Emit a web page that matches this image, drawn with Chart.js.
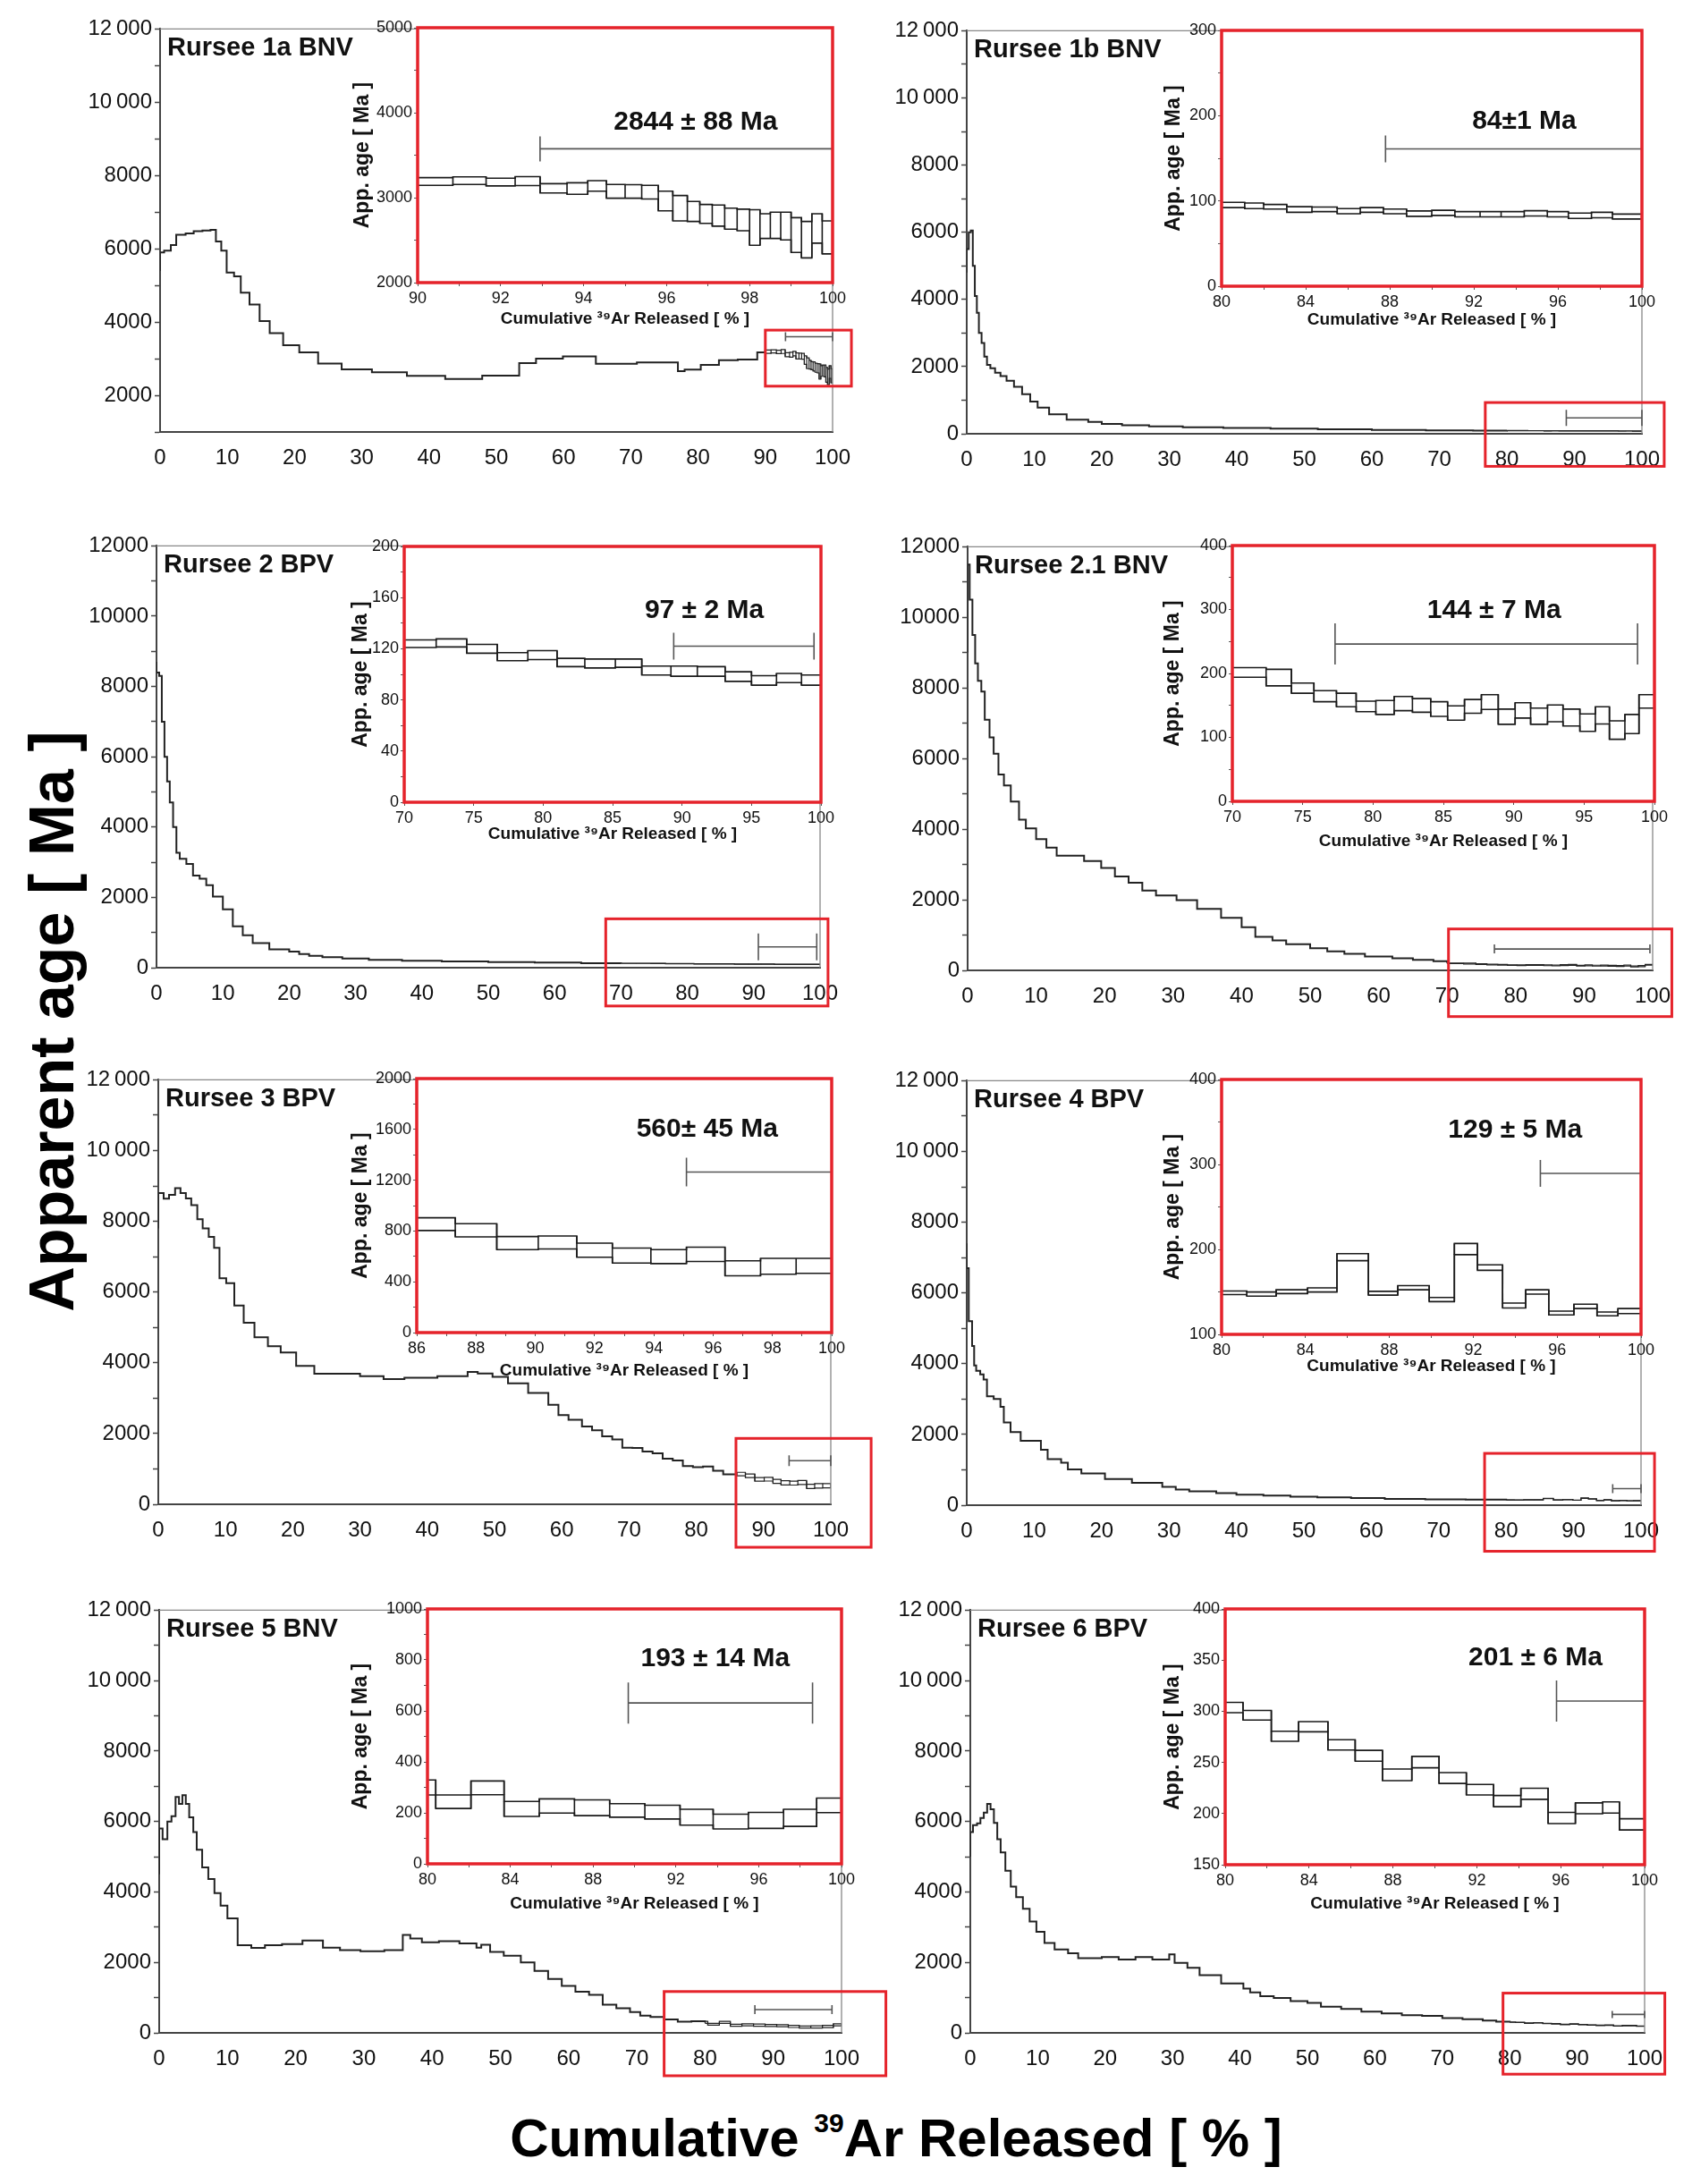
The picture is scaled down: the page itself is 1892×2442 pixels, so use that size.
<!DOCTYPE html>
<html>
<head>
<meta charset="utf-8">
<script src="https://cdn.jsdelivr.net/npm/chart.js@4.4.1/dist/chart.umd.min.js"></script>
<style>
  body { margin: 0; background: #fff; width: 1892px; height: 2442px; position: relative; overflow: hidden;
         font-family: "Liberation Sans", Arial, sans-serif; }
  .box { position: absolute; }
  .ytitle { position: absolute; left: 58px; top: 1142px; transform: translate(-50%, -50%) rotate(-90deg);
            font-weight: bold; font-size: 70px; white-space: nowrap; color: #000; }
  .xtitle { position: absolute; left: 1002px; top: 2390px; transform: translate(-50%, -50%);
            font-weight: bold; font-size: 60px; white-space: nowrap; color: #000; }
  .xtitle sup { font-size: 0.5em; vertical-align: 0.9em; }
</style>
</head>
<body>
<div class="ytitle">Apparent age [ Ma ]</div>
<div class="xtitle">Cumulative <sup>39</sup>Ar Released [ % ]</div>
<script>
'use strict';

const sampleNames = ['Rursee 1a BNV', 'Rursee 1b BNV', 'Rursee 2 BPV', 'Rursee 2.1 BNV',
                     'Rursee 3 BPV', 'Rursee 4 BPV', 'Rursee 5 BNV', 'Rursee 6 BPV'];
const plateauTexts = ['2844 ± 88 Ma', '84±1 Ma', '97 ± 2 Ma', '144 ± 7 Ma',
                      '560± 45 Ma', '129 ± 5 Ma', '193 ± 14 Ma', '201 ± 6 Ma'];

// full spectra: left edge of each step (cumulative %) and apparent age (Ma)
const mainX1 = [0, 0, 0.6, 1.6, 2.4, 3.8, 5.0, 6.3, 7.5, 8.3, 9.1, 9.9, 11, 12, 13.3, 14.8, 16.3, 18.3, 20.7, 23.5,
                27, 31.5, 36.7, 42.4, 47.9, 53.4, 55.9, 59.9, 64.8, 70.9, 77, 78, 80.4, 83.1, 85.9, 88.8];
const mainAge1 = [5400, 5900, 5950, 6100, 6380, 6420, 6480, 6500, 6520, 6200, 5950, 5350, 5250, 4800, 4480, 4030, 3700, 3370, 3170, 2870,
                  2710, 2630, 2530, 2445, 2540, 2880, 3000, 3060, 2860, 2900, 2660, 2700, 2830, 2960, 2980, 3170];
const mainX2 = [0, 0, 0.3, 0.6, 0.9, 1.2, 1.5, 1.8, 2.2, 2.6, 3, 3.5, 4.2, 5, 5.9, 7, 8.2, 9.4, 10.5, 12.2,
                14.8, 18, 20, 23, 27, 32, 38, 45, 52, 60, 68, 75];
const mainAge2 = [4800, 5500, 6000, 6050, 5000, 4100, 3600, 3000, 2700, 2300, 2050, 1950, 1820, 1720, 1580, 1400, 1180, 960, 780, 580,
                  420, 350, 290, 250, 220, 190, 170, 150, 130, 110, 100, 95];
const mainX3 = [0, 0, 0.4, 0.8, 1.2, 1.6, 2, 2.5, 3, 3.5, 4.5, 5.5, 6.5, 7.5, 8.5, 10, 11.5, 13, 14.5, 17,
                20, 21.5, 23, 25, 28, 32, 37, 43, 50, 57, 64];
const mainAge3 = [8700, 8400, 8300, 7000, 6000, 5300, 4700, 4000, 3270, 3100, 2950, 2620, 2530, 2350, 2020, 1660, 1180, 920, 700, 520,
                  460, 390, 340, 300, 260, 225, 200, 180, 160, 145, 130];
const mainX4 = [0, 0, 0.3, 0.7, 1.1, 1.5, 2, 2.5, 3.2, 3.8, 4.5, 5.3, 6.3, 7.5, 8.5, 10, 11.5, 13, 17, 19.5,
                21.5, 23.5, 25.5, 27.5, 30.5, 33.5, 37, 40, 42, 44.5, 46.5, 50, 52.5, 55, 58, 62, 65, 68];
const mainAge4 = [9000, 11500, 10500, 9500, 8700, 8200, 7900, 7100, 6600, 6140, 5550, 5240, 4780, 4270, 4020, 3720, 3480, 3250, 3100, 2900,
                  2660, 2480, 2260, 2120, 1990, 1740, 1490, 1220, 950, 850, 740, 630, 540, 470, 390, 340, 300, 260];
const mainX5 = [0, 0, 0.8, 1.6, 2.5, 3.3, 4.1, 4.9, 5.8, 6.6, 7.5, 8.3, 9.1, 10.1, 11.3, 12.7, 14.3, 16.3, 18.2, 20.5,
                23.2, 30, 33.5, 36.6, 41.5, 46, 47.5, 49.7, 52, 55, 58, 59.5, 61, 63, 64.5, 66, 67.5, 69, 70.5, 72,
                73.5, 75, 76.5, 78, 79.5, 81, 82.5, 84];
const mainAge5 = [7800, 8800, 8640, 8750, 8940, 8800, 8650, 8460, 8060, 7800, 7560, 7250, 6390, 6250, 5620, 5130, 4720, 4470, 4290, 3910,
                  3690, 3620, 3540, 3580, 3620, 3740, 3700, 3600, 3420, 3150, 2810, 2520, 2390, 2200, 2090, 1920, 1830, 1600, 1590, 1490,
                  1440, 1290, 1240, 1080, 1050, 1070, 950, 850];
const mainX6 = [0, 0, 0.3, 0.8, 1.1, 1.4, 2, 2.5, 3, 4, 5, 5.5, 6.5, 8, 11, 12, 14, 15, 17, 20.5,
                24.5, 29, 31, 33, 37, 40, 44, 48, 52, 57, 62, 68, 74];
const mainAge6 = [7400, 6700, 5200, 4500, 3950, 3800, 3700, 3550, 3080, 3000, 2780, 2340, 2070, 1820, 1570, 1300, 1200, 1010, 900, 740,
                  630, 520, 440, 390, 340, 300, 270, 240, 220, 200, 180, 165, 155];
const mainX7 = [0, 0, 0.5, 1.2, 1.8, 2.4, 2.9, 3.4, 3.9, 4.4, 5, 5.5, 6.3, 7.2, 8.1, 9, 10, 11.5, 13.5, 15.5,
                18, 21, 24, 26.5, 29.5, 33, 35.7, 36.8, 38.5, 41, 44, 46.5, 47.2, 48.5, 50.5, 53, 55, 57, 59, 61,
                63, 65, 67, 69, 70.5, 72, 74, 76, 78];
const mainAge7 = [4500, 5800, 5500, 6000, 6150, 6700, 6500, 6750, 6500, 6120, 5700, 5200, 4700, 4370, 3970, 3610, 3250, 2490, 2410, 2490,
                  2520, 2620, 2420, 2350, 2320, 2350, 2780, 2680, 2570, 2600, 2540, 2420, 2500, 2300, 2190, 2000, 1760, 1530, 1330, 1170,
                  1080, 800, 700, 590, 490, 450, 380, 320, 330];
const mainX8 = [0, 0, 0.4, 1, 1.5, 2, 2.5, 3, 3.5, 4, 4.5, 5.2, 6, 6.8, 7.8, 8.8, 9.8, 11, 12.5, 14.5,
                16, 19.5, 22, 24.5, 27, 29.5, 30.3, 32.2, 34, 37.2, 40.5, 41.5, 43, 45, 47.5, 50, 52, 55, 58, 61,
                64, 67, 70, 73, 76, 78];
const mainAge8 = [5000, 5700, 5900, 5950, 6100, 6250, 6500, 6350, 5960, 5500, 5120, 4600, 4150, 3850, 3520, 3160, 2870, 2550, 2370, 2260,
                  2120, 2150, 2080, 2150, 2080, 2230, 1990, 1850, 1640, 1400, 1260, 1150, 1040, 990, 900, 850, 740, 680, 600, 550,
                  500, 480, 420, 390, 350, 320];

// high-temperature steps shown in the insets: step edges (%), lower and upper age of each box (Ma)
const insetX1 = [90, 90.85, 91.65, 92.35, 92.95, 93.6, 94.1, 94.55, 95, 95.4, 95.8, 96.15, 96.5, 96.8, 97.1, 97.4, 97.7, 98, 98.25, 98.5, 98.75, 99, 99.25, 99.5, 99.75, 100];
const insetLo1 = [3145, 3156, 3138, 3142, 3055, 3040, 3076, 2993, 2993, 2985, 2844, 2727, 2720, 2698, 2665, 2629, 2611, 2440, 2520, 2520, 2502, 2356, 2291, 2465, 2338];
const insetHi1 = [3236, 3244, 3229, 3247, 3164, 3175, 3200, 3156, 3153, 3145, 3076, 3025, 2956, 2920, 2913, 2876, 2865, 2858, 2811, 2829, 2829, 2764, 2720, 2811, 2727];
const insetX2 = [80, 81.1, 82, 83.1, 84.3, 85.5, 86.6, 87.7, 88.8, 90, 91.1, 92.3, 93.3, 94.4, 95.5, 96.5, 97.6, 98.6, 100];
const insetLo2 = [92.2, 91, 90.4, 86.7, 87.5, 85, 86.7, 85, 82, 83, 81.3, 81.3, 81.3, 82.4, 81.3, 79.5, 80.2, 78.8];
const insetHi2 = [98.3, 97.6, 95.8, 93.2, 92.9, 91, 92.2, 90.4, 88.2, 89, 87.5, 87.5, 87.5, 88.5, 87.5, 85.7, 86.7, 84.6];
const insetX3 = [70, 72.3, 74.5, 76.7, 78.9, 81, 83, 85.2, 87.1, 89.2, 91.1, 93.1, 95, 96.8, 98.6, 100];
const insetLo3 = [121, 121.4, 116.5, 110.7, 111.5, 106, 105, 105.5, 99.5, 98.5, 98.5, 94.5, 91.5, 93.5, 91.5];
const insetHi3 = [126.9, 127.7, 123.4, 117, 118.5, 112.5, 112, 112, 106.5, 106.5, 106, 102, 99, 100.7, 99.5];
const insetX4 = [70, 72.4, 74.2, 75.8, 77.4, 78.8, 80.2, 81.5, 82.8, 84.1, 85.3, 86.5, 87.7, 88.9, 90.1, 91.2, 92.4, 93.5, 94.7, 95.8, 96.8, 97.9, 98.9, 100];
const insetLo4 = [194, 180.6, 169, 155.7, 147.8, 140.3, 135.8, 141.8, 139.3, 132.8, 126.9, 137.8, 143.8, 120.4, 130.3, 120.4, 124.4, 117.9, 109.5, 120.9, 97, 106, 145.8];
const insetHi4 = [209, 206.5, 185, 173, 169, 156.7, 157.7, 164, 160.7, 155.7, 149.3, 159.2, 166.7, 144.3, 154.2, 145.8, 150.7, 144.3, 136.8, 147.8, 125.9, 135.8, 166.7];
const insetX5 = [86, 87.3, 88.7, 90.1, 91.4, 92.6, 93.9, 95.1, 96.4, 97.6, 98.8, 100];
const insetLo5 = [804, 754, 653, 658, 593, 548, 543, 560, 447, 460, 467];
const insetHi5 = [904, 857, 756, 761, 704, 666, 653, 673, 565, 585, 585];
const insetX6 = [80, 81.2, 82.6, 84.1, 85.5, 87, 88.4, 89.9, 91.1, 92.2, 93.4, 94.5, 95.6, 96.8, 97.9, 98.9, 100];
const insetLo6 = [146.9, 145, 148, 149.9, 186.7, 146.2, 152.5, 138.6, 193.8, 175.4, 131.1, 147.3, 122.9, 130.4, 121.8, 124.4];
const insetHi6 = [151, 149.9, 152.5, 154.8, 195, 150.7, 157.4, 143.5, 207, 181.8, 136.8, 152.5, 127.4, 135.6, 126.3, 130.4];
const insetX7 = [80, 80.4, 82.1, 83.7, 85.4, 87.1, 88.8, 90.5, 92.2, 93.8, 95.5, 97.2, 98.8, 100];
const insetLo7 = [270, 217, 271, 186, 199, 189, 183, 176, 152, 137, 139, 147, 201];
const insetHi7 = [329, 270, 325, 245, 255, 251, 236, 230, 214, 195, 202, 214, 258];
const insetX8 = [80, 80.85, 82.2, 83.5, 84.9, 86.2, 87.5, 88.9, 90.2, 91.5, 92.8, 94.1, 95.4, 96.7, 98, 98.8, 100];
const insetLo8 = [298.6, 291.4, 270.6, 279.9, 262.1, 251.2, 232.2, 244.7, 229.4, 218.2, 206.7, 213.9, 190.2, 199.8, 200.5, 184];
const insetHi8 = [308.6, 300.8, 280.5, 289.9, 272.1, 261.8, 243.5, 255.9, 240, 228.5, 217.6, 224.8, 201.1, 210.4, 211.4, 194.9];

// plateau bars [from %, to %, drawn at age], main panel and inset
const plateauMain = [[93, 100, 3600], [88.8, 100, 474], [90.7, 99.5, 590], [76.9, 99.6, 605],
                     [93.8, 100, 1233], [95.8, 100, 467], [87.3, 98.6, 659], [95.2, 100, 523]];
const plateauInset = [[92.95, 100, 3575], [87.8, 100, 161], [89.4, 99.5, 122], [77.3, 98.8, 246],
                      [95.1, 100, 1264], [95.2, 100, 289.5], [89.7, 98.6, 631], [95.8, 100, 310]];
// plateau age label centre [%, Ma] in the inset
const labelAt = [[96.7, 3884], [94.4, 193], [91.6, 150], [88.6, 298], [95.8, 1598], [94, 340], [93.9, 805], [94.8, 352]];
// highlighted region in the main panel [x0, x1, y0, y1]
const zoomRegion = [[90, 102.8, 2250, 3780], [76.8, 103.3, -970, 930], [67.7, 101.2, -1090, 1390], [70.2, 102.8, -1309, 1173],
                    [85.9, 106, -1215, 1863], [76.8, 102, -1303, 1465], [74, 106.5, -1218, 1173], [79, 103, -1173, 1128]];

// axes
const mainYMin = [1000, 0, 0, 0, 0, 0, 0, 0];
const mainYSpaced = [true, true, false, false, true, true, true, true];
const insetXAxis = [[90, 100, 1, 2], [80, 100, 2, 4], [70, 100, 5, 5], [70, 100, 5, 5],
                    [86, 100, 1, 2], [80, 100, 2, 4], [80, 100, 2, 4], [80, 100, 2, 4]];   // min, max, step, labelled step
const insetYAxis = [[2000, 5000, 500, 1000], [0, 300, 50, 100], [0, 200, 20, 40], [0, 400, 50, 100],
                    [0, 2000, 200, 400], [100, 400, 50, 100], [0, 1000, 100, 200], [150, 400, 50, 50]];

const mains = [[mainX1, mainAge1], [mainX2, mainAge2], [mainX3, mainAge3], [mainX4, mainAge4],
               [mainX5, mainAge5], [mainX6, mainAge6], [mainX7, mainAge7], [mainX8, mainAge8]];
const insets = [[insetX1, insetLo1, insetHi1], [insetX2, insetLo2, insetHi2], [insetX3, insetLo3, insetHi3], [insetX4, insetLo4, insetHi4],
                [insetX5, insetLo5, insetHi5], [insetX6, insetLo6, insetHi6], [insetX7, insetLo7, insetHi7], [insetX8, insetLo8, insetHi8]];

// page layout (px): plot boxes, inset title offsets, plateau end-cap half heights
const layout = [
  { main: [179, 31, 931, 483],    inset: [467, 31, 931, 316],    yOff: 61, xOff: 41, capM: 5,  capI: 14 },
  { main: [1081, 33, 1836, 485],  inset: [1366, 34, 1836, 320],  yOff: 53, xOff: 38, capM: 9,  capI: 15 },
  { main: [175, 609, 917, 1082],  inset: [452, 611, 918, 897],   yOff: 48, xOff: 36, capM: 15, capI: 15 },
  { main: [1082, 610, 1848, 1085], inset: [1378, 610, 1850, 896], yOff: 66, xOff: 45, capM: 5,  capI: 23 },
  { main: [177, 1206, 929, 1682], inset: [466, 1206, 930, 1490], yOff: 62, xOff: 43, capM: 6,  capI: 16 },
  { main: [1081, 1207, 1835, 1683], inset: [1366, 1207, 1835, 1492], yOff: 54, xOff: 36, capM: 5, capI: 15 },
  { main: [178, 1799, 941, 2273], inset: [478, 1799, 941, 2084], yOff: 74, xOff: 45, capM: 5,  capI: 23 },
  { main: [1085, 1799, 1839, 2273], inset: [1370, 1799, 1839, 2085], yOff: 58, xOff: 44, capM: 4, capI: 23 },
];

const RED = '#e5232b';
const FONT = '"Liberation Sans", Arial, sans-serif';
Chart.defaults.font.family = FONT;
Chart.defaults.color = '#111';

function stepPoints(xs, ages, endX, endY) {
  const pts = xs.map((x, i) => ({ x, y: ages[i] }));
  pts.push({ x: endX, y: endY });
  return pts;
}

// upper or lower error envelope as a step line
function envelope(xs, vals) {
  const pts = vals.map((v, i) => ({ x: xs[i], y: v }));
  pts.push({ x: xs[xs.length - 1], y: vals[vals.length - 1] });
  return pts;
}

// vertical sides of each step box
function boxSides(xs, lo, hi) {
  const pts = [];
  for (let i = 0; i < lo.length; i++) {
    pts.push({ x: xs[i], y: lo[i] }, { x: xs[i], y: hi[i] }, { x: xs[i], y: null },
             { x: xs[i + 1], y: lo[i] }, { x: xs[i + 1], y: hi[i] }, { x: xs[i + 1], y: null });
  }
  return pts;
}

function labelEvery(base, step) {
  return (v) => {
    const k = (v - base) / step;
    return Math.abs(k - Math.round(k)) < 1e-6 ? String(v) : '';
  };
}

function mainYLabel(spaced) {
  return (v) => {
    if (v % 2000 !== 0) return '';
    if (v >= 10000 && spaced) return String(v).replace(/^(\d+)(\d{3})$/, '$1\u2009$2');
    return String(v);
  };
}

function spectrumSets(ix, ilo, ihi, color, width) {
  const base = { borderColor: color, borderWidth: width, pointRadius: 0, spanGaps: false };
  return [
    { ...base, data: envelope(ix, ihi), stepped: true },
    { ...base, data: envelope(ix, ilo), stepped: true },
    { ...base, data: boxSides(ix, ilo, ihi) },
  ];
}

function makeDecor(o) {
  return {
    id: 'decor',
    beforeDatasetsDraw(chart) {
      if (!o.fill) return;
      const a = chart.chartArea, ctx = chart.ctx;
      ctx.save();
      ctx.fillStyle = '#fff';
      ctx.fillRect(a.left, a.top, a.width, a.height);
      ctx.restore();
    },
    afterDraw(chart) {
      const { ctx, chartArea: a } = chart;
      const sx = chart.scales.x, sy = chart.scales.y;
      ctx.save();
      if (o.frame) {
        ctx.strokeStyle = '#888';
        ctx.lineWidth = 1.3;
        ctx.beginPath();
        ctx.moveTo(a.left, a.top); ctx.lineTo(a.right, a.top); ctx.lineTo(a.right, a.bottom);
        ctx.stroke();
      }
      if (o.plateau) {
        const [x0, x1, y] = o.plateau;
        const px0 = sx.getPixelForValue(x0), px1 = sx.getPixelForValue(x1), py = sy.getPixelForValue(y);
        ctx.strokeStyle = '#555';
        ctx.lineWidth = 1.6;
        ctx.beginPath();
        ctx.moveTo(px0, py); ctx.lineTo(px1, py);
        ctx.moveTo(px0, py - o.cap); ctx.lineTo(px0, py + o.cap);
        ctx.moveTo(px1, py - o.cap); ctx.lineTo(px1, py + o.cap);
        ctx.stroke();
      }
      if (o.zoom) {
        const [x0, x1, y0, y1] = o.zoom;
        const l = sx.getPixelForValue(x0), r = sx.getPixelForValue(x1);
        const t = sy.getPixelForValue(y1), b = sy.getPixelForValue(y0);
        ctx.strokeStyle = RED;
        ctx.lineWidth = 3;
        ctx.strokeRect(l, t, r - l, b - t);
      }
      if (o.redFrame) {
        ctx.strokeStyle = RED;
        ctx.lineWidth = 3.5;
        ctx.strokeRect(a.left, a.top, a.width, a.height);
      }
      ctx.fillStyle = '#111';
      if (o.label) {
        ctx.font = 'bold 30px ' + FONT;
        ctx.textAlign = 'center';
        ctx.textBaseline = 'middle';
        ctx.fillText(o.label, sx.getPixelForValue(o.labelAt[0]), sy.getPixelForValue(o.labelAt[1]));
      }
      if (o.title) {
        ctx.font = 'bold 29px ' + FONT;
        ctx.textAlign = 'left';
        ctx.textBaseline = 'middle';
        ctx.fillText(o.title, a.left + 8, a.top + 22);
      }
      ctx.restore();
    }
  };
}

function mountCanvas(left, top, w, h) {
  const div = document.createElement('div');
  div.className = 'box';
  div.style.left = left + 'px';
  div.style.top = top + 'px';
  div.style.width = w + 'px';
  div.style.height = h + 'px';
  const c = document.createElement('canvas');
  c.width = w; c.height = h;
  c.style.width = w + 'px'; c.style.height = h + 'px';
  div.appendChild(c);
  document.body.appendChild(div);
  return c;
}

function drawMain(i) {
  const [l, t, r, b] = layout[i].main;
  const yW = 95, padT = 16, padR = 75, xH = 62;
  const canvas = mountCanvas(l - yW, t - padT, yW + (r - l) + padR, padT + (b - t) + xH);
  const [mx, mage] = mains[i];
  const [ix, ilo, ihi] = insets[i];

  new Chart(canvas, {
    type: 'line',
    data: {
      datasets: [
        { data: stepPoints(mx, mage, ix[0], ihi[0]), stepped: true, borderColor: '#222', borderWidth: 2, pointRadius: 0 },
        ...spectrumSets(ix, ilo, ihi, '#222', 1.2),
      ],
    },
    options: {
      responsive: false,
      animation: false,
      events: [],
      layout: { padding: { top: padT, right: padR, left: 0, bottom: 0 } },
      plugins: { legend: { display: false }, tooltip: { enabled: false } },
      scales: {
        x: {
          type: 'linear', min: 0, max: 100,
          afterFit: (s) => { s.height = xH; },
          border: { color: '#444', width: 2 },
          grid: { display: false },
          ticks: { stepSize: 10, font: { size: 24 }, padding: 7, maxRotation: 0, autoSkip: false },
        },
        y: {
          min: mainYMin[i], max: 12000,
          afterFit: (s) => { s.width = yW; },
          border: { color: '#444', width: 2 },
          grid: { drawOnChartArea: false, tickLength: 6, color: '#444', tickWidth: 1.5 },
          ticks: { stepSize: 1000, callback: mainYLabel(mainYSpaced[i]), font: { size: 24 }, padding: 3, autoSkip: false },
        },
      },
    },
    plugins: [makeDecor({ frame: true, title: sampleNames[i], plateau: plateauMain[i], cap: layout[i].capM, zoom: zoomRegion[i] })],
  });
}

function drawInset(i) {
  const L = layout[i];
  const [l, t, r, b] = L.inset;
  const yTitleSize = 23, xTitleSize = 19;
  const yW = Math.round(L.yOff + yTitleSize * 0.6), padT = 14, padR = 22, xH = Math.round(L.xOff + xTitleSize * 0.6);
  const canvas = mountCanvas(l - yW, t - padT, yW + (r - l) + padR, padT + (b - t) + xH);
  const [ix, ilo, ihi] = insets[i];
  const [xmin, xmax, xstep, xlab] = insetXAxis[i];
  const [ymin, ymax, ystep, ylab] = insetYAxis[i];

  new Chart(canvas, {
    type: 'line',
    data: { datasets: spectrumSets(ix, ilo, ihi, '#1a1a1a', 1.6) },
    options: {
      responsive: false,
      animation: false,
      events: [],
      layout: { padding: { top: padT, right: padR, left: 0, bottom: 0 } },
      plugins: { legend: { display: false }, tooltip: { enabled: false } },
      scales: {
        x: {
          type: 'linear', min: xmin, max: xmax,
          afterFit: (s) => { s.height = xH; },
          border: { display: false },
          grid: { drawOnChartArea: false, tickLength: 4, color: '#555' },
          ticks: { stepSize: xstep, callback: labelEvery(xmin, xlab), font: { size: 18 }, padding: 3, maxRotation: 0, autoSkip: false },
          title: { display: true, text: 'Cumulative ³⁹Ar Released [ % ]', font: { size: xTitleSize, weight: 'bold' }, padding: 0 },
        },
        y: {
          min: ymin, max: ymax,
          afterFit: (s) => { s.width = yW; },
          border: { display: false },
          grid: { drawOnChartArea: false, tickLength: 4, color: '#555' },
          ticks: { stepSize: ystep, callback: labelEvery(ymin, ylab), font: { size: 18 }, padding: 2, autoSkip: false },
          title: { display: true, text: 'App. age [ Ma ]', font: { size: yTitleSize, weight: 'bold' }, padding: 0 },
        },
      },
    },
    plugins: [makeDecor({ fill: true, redFrame: true, plateau: plateauInset[i], cap: L.capI,
                          label: plateauTexts[i], labelAt: labelAt[i] })],
  });
}

for (let i = 0; i < 8; i++) drawMain(i);
for (let i = 0; i < 8; i++) drawInset(i);
</script>
</body>
</html>
